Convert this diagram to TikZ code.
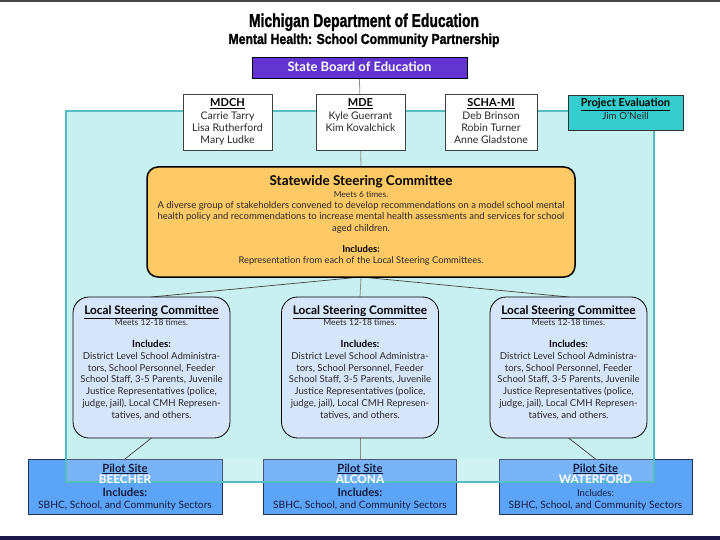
\documentclass[tikz,border=0pt]{standalone}
\usepackage{fontspec}
\setmainfont{Lato}
\newfontfamily\titlefont{Liberation Sans Bold}[FakeBold=1.6]
\definecolor{sbecol}{RGB}{98,52,208}
\definecolor{cyanbg}{RGB}{200,240,240}
\definecolor{tealline}{RGB}{86,190,192}
\definecolor{projeval}{RGB}{52,204,204}
\definecolor{swfill}{RGB}{255,202,102}
\definecolor{lscfill}{RGB}{214,230,250}
\definecolor{pilotfill}{RGB}{92,164,248}
\definecolor{pilotline}{RGB}{30,50,90}
\definecolor{navyband}{RGB}{28,24,72}
\definecolor{txt}{RGB}{40,40,40}
\definecolor{txtnavy}{RGB}{20,28,60}
\pgfdeclarelayer{bglayer}
\pgfdeclarelayer{connlayer}
\pgfdeclarelayer{pilotlayer}
\pgfdeclarelayer{ovlayer}
\pgfsetlayers{bglayer,connlayer,pilotlayer,ovlayer,main}
\begin{document}
\begin{tikzpicture}[x=1pt,y=-1pt,
  every node/.style={inner sep=0pt,outer sep=0pt},
  topbox/.style={draw=black!75,line width=0.8pt,fill=white,minimum height=56pt},
  ln/.style={anchor=base,text=txt,font=\fontsize{10.5}{12}\selectfont},
  lnb/.style={anchor=base,text=black,font=\fontsize{11}{12}\selectfont\bfseries},
  swbox/.style={draw=black,line width=1.5pt,fill=swfill,rounded corners=11pt,minimum width=428pt,minimum height=110pt},
  lscbox/.style={draw=black,line width=0.8pt,fill=lscfill,rounded corners=16pt,minimum width=157pt,minimum height=141pt},
  pilotbox/.style={draw=pilotline,line width=0.9pt,fill=pilotfill,minimum width=194pt,minimum height=55pt},
  conn/.style={draw=black!75,line width=0.7pt},
  connl/.style={draw=black!45,line width=0.8pt}]
\useasboundingbox (0,0) rectangle (720,540);
% frame lines
\fill[black!72] (0,0) rectangle (720,2);
\fill[navyband] (0,536) rectangle (720,540);
% titles
\node[anchor=base] (title1) at (364,27) {\resizebox{230pt}{13.5pt}{\titlefont Michigan Department of Education}};
\node[anchor=base] (title2) at (364,44) {\resizebox{271pt}{10.5pt}{\titlefont Mental Health: School Community Partnership}};
% cyan background
\begin{pgfonlayer}{bglayer}
\fill[cyanbg] (66,111) rectangle (654,482);
\end{pgfonlayer}
% main boxes
\node[draw=black,line width=0.9pt,fill=sbecol,minimum width=215pt,minimum height=21pt] (sbe) at (359.5,67.5) {};
\node[swbox] (sw) at (361,222) {};
\node[lscbox] (lsa) at (151.5,367.5) {};
\node[lscbox] (lsb) at (360,367.5) {};
\node[lscbox] (lsc) at (568.5,367.5) {};
\begin{pgfonlayer}{pilotlayer}
\node[pilotbox] (pa) at (125,486.5) {};
\node[pilotbox,minimum width=193pt] (pb) at (360,486.5) {};
\node[pilotbox,minimum width=193pt] (pc) at (595.5,486.5) {};
\end{pgfonlayer}
% translucent overlay of background frame over pilot boxes
\begin{pgfonlayer}{ovlayer}
\fill[white,opacity=0.18] (66,459) rectangle (654,482);
\draw[tealline,line width=2pt] (66,111) rectangle (654,482);
\end{pgfonlayer}
% top boxes
\node[topbox,minimum width=89pt] (mdch) at (227.5,122.5) {};
\node[topbox,minimum width=89pt] (mde) at (360.5,122.5) {};
\node[topbox,minimum width=92pt] (scha) at (491,122.5) {};
\node[draw=black!80,line width=0.8pt,fill=projeval,minimum width=115pt,minimum height=35pt] (pe) at (625.5,112.5) {};
% connectors
\begin{pgfonlayer}{connlayer}
\draw[connl] (sbe.south) -- (sw.north);
\draw[conn] (sw.south) -- (lsa.north);
\draw[connl] (sw.south) -- (lsb.north);
\draw[conn] (sw.south) -- (lsc.north);
\draw[conn] (lsa.south) -- (pa.north);
\draw[connl] (lsb.south) -- (pb.north);
\draw[conn] (lsc.south) -- (pc.north);
\end{pgfonlayer}
% State board text
\node[anchor=base,text=white,font=\fontsize{13}{14}\selectfont\bfseries] (sbet) at (359.5,72) {State Board of Education};
% top box texts
\node[lnb] (mdch1) at (227.5,107) {\underline{MDCH}};
\node[ln] (mdch2) at (227.5,120) {Carrie Tarry};
\node[ln] (mdch3) at (227.5,131.5) {Lisa Rutherford};
\node[ln] (mdch4) at (227.5,143.5) {Mary Ludke};
\node[lnb] (mde1) at (360.5,107) {\underline{MDE}};
\node[ln] (mde2) at (360.5,120) {Kyle Guerrant};
\node[ln] (mde3) at (360.5,131.5) {Kim Kovalchick};
\node[lnb] (scha1) at (491,107) {\underline{SCHA-MI}};
\node[ln] (scha2) at (491,120) {Deb Brinson};
\node[ln] (scha3) at (491,131.5) {Robin Turner};
\node[ln] (scha4) at (491,143.5) {Anne Gladstone};
\node[lnb] (pe1) at (625.5,106.5) {\underline{Project Evaluation}};
\node[ln,font=\fontsize{9.8}{12}\selectfont] (pe2) at (625.5,120) {Jim O'Neill};
% statewide text
\node[anchor=base,text=black,font=\fontsize{13.5}{14}\selectfont\bfseries] (sw1) at (361,186) {Statewide Steering Committee};
\begin{scope}[every node/.append style={anchor=base,text=txt,font=\fontsize{9.5}{10}\selectfont}]
\node[font=\fontsize{8.4}{10}\selectfont] (sw2) at (361,197) {Meets 6 times.};
\node (sw3) at (361,208.5) {A diverse group of stakeholders convened to develop recommendations on a model school mental};
\node (sw4) at (361,220) {health policy and recommendations to increase mental health assessments and services for school};
\node (sw5) at (361,231.5) {aged children.};
\node[font=\fontsize{9.5}{10}\selectfont\bfseries,text=black] (sw6) at (361,252) {Includes:};
\node[font=\fontsize{9.3}{10}\selectfont] (sw7) at (361,263.5) {Representation from each of the Local Steering Committees.};
\end{scope}
% local texts
\foreach \cx/\nm in {151.5/a,360/b,568.5/c}{
  \node[anchor=base,text=black,font=\fontsize{11.8}{12}\selectfont\bfseries] (lt\nm1) at (\cx,314.5) {\underline{Local Steering Committee}};
  \node[anchor=base,text=txt,font=\fontsize{8.5}{10}\selectfont] (lt\nm2) at (\cx,325.5) {Meets 12-18 times.};
  \node[anchor=base,text=black,font=\fontsize{9.8}{10}\selectfont\bfseries] (lt\nm3) at (\cx,347) {Includes:};
  \foreach \t [count=\i from 0] in {{District Level School Administra-},{tors, School Personnel, Feeder},{School Staff, 3-5 Parents, Juvenile},{Justice Representatives (police,},{judge, jail), Local CMH Represen-},{tatives, and others.}}{
    \node[anchor=base,text=txt,font=\fontsize{9.6}{10}\selectfont] (lb\nm\i) at (\cx,{359.5+11.7*\i}) {\t};
  }
}
% pilot texts
\foreach \cx/\nm/\site/\inc in {125/a/BEECHER/{\fontsize{11.3}{12}\selectfont\bfseries},360/b/ALCONA/{\fontsize{11.3}{12}\selectfont\bfseries},595.5/c/WATERFORD/{\fontsize{9.5}{12}\selectfont}}{
  \node[anchor=base,text=txtnavy,font=\fontsize{11.3}{12}\selectfont\bfseries] (ps\nm1) at (\cx,472) {\underline{Pilot Site}};
  \node[anchor=base,text=white,font=\fontsize{11.8}{12}\selectfont\bfseries] (ps\nm2) at (\cx,483.5) {\site};
  \node[anchor=base,text=txtnavy,font=\inc] (ps\nm3) at (\cx,496) {Includes:};
  \node[anchor=base,text=txtnavy,font=\fontsize{10.2}{12}\selectfont] (ps\nm4) at (\cx,508) {SBHC, School, and Community Sectors};
}
\end{tikzpicture}
\end{document}
